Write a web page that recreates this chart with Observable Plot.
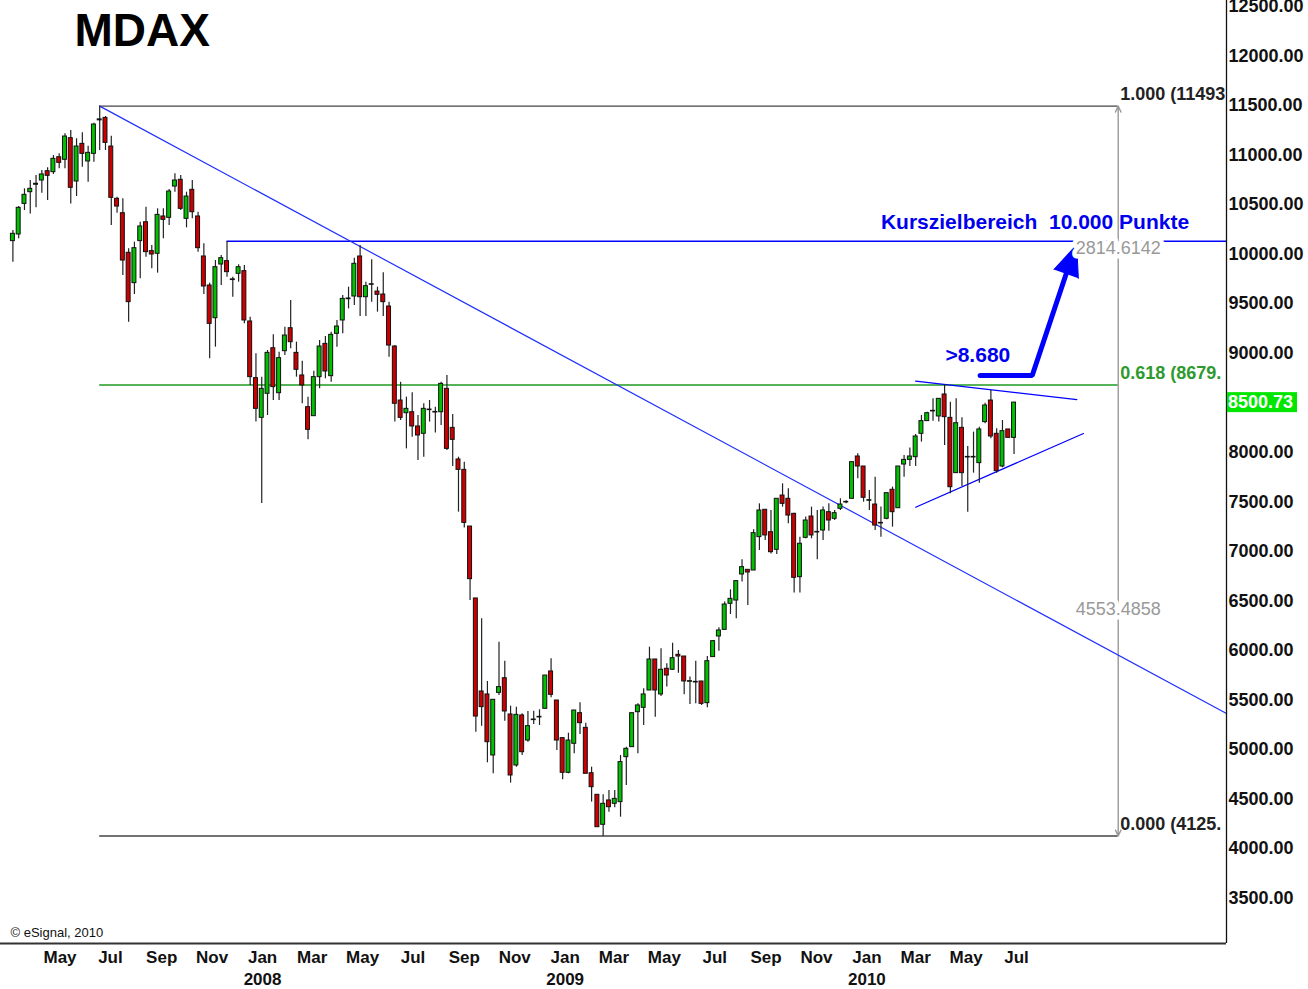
<!DOCTYPE html>
<html><head><meta charset="utf-8">
<script src="https://cdn.jsdelivr.net/npm/d3@7"></script>
<script src="https://cdn.jsdelivr.net/npm/@observablehq/plot@0.6"></script>
<style>
body{margin:0;background:#fff;}
#chart{position:relative;width:1308px;height:989px;overflow:hidden;}
</style></head><body><div id="chart"></div>
<script>
// ---- data (weekly MDAX candles) ----
const firstWeek = "2007-03-05";
const open = [10131,10198,10507,10625,10700,10743,10837,10827,10978,10952,11170,10733,11113,10935,11012,11350,11375,11086,10558,10413,
10013,9707,10131,10322,10030,10003,10380,10366,10682,10750,10356,10649,10380,9976,9683,9353,9895,9929,9745,9801,
9828,9320,8748,8347,8590,9050,8596,9020,9252,9003,8775,8455,8364,8758,9094,8768,9195,9330,9545,9572,
9976,9565,9690,9622,9592,9471,9067,8522,8394,8404,8260,8186,8425,8401,8404,8640,8246,7927,7822,7250,
6524,5585,5555,4939,5571,5719,5353,4838,5343,5090,5296,5323,5410,5787,5494,5114,4764,5057,5366,5218,
4760,4542,4239,4485,4451,4468,4922,5023,5376,5420,5595,5908,5555,5814,5804,5955,5938,5683,5676,5686,
5467,5932,6140,6207,6470,6503,6766,6813,6806,7143,7419,7193,7015,7563,7530,7378,6739,7136,7351,7190,
7210,7395,7328,7429,7493,7530,7957,7856,7510,7472,7281,7328,7621,7435,7876,7923,7950,8186,8314,8412,
8361,8583,8347,7789,8246,7947,7947,7890,8304,8522,8186,7856,8230,8145];
const high = [10238,10480,10659,10743,10793,10844,10871,10995,11012,11214,11248,11164,11224,11089,11322,11493,11389,11190,10575,10558,
10053,10121,10322,10474,10087,10457,10457,10652,10810,10793,10625,10743,10423,10104,9707,9935,9986,10127,9767,9892,
9885,9363,8993,8758,9027,9185,9010,9262,9532,9111,8919,8556,8818,9128,9168,9212,9330,9582,9666,9959,
10087,9717,9942,9666,9811,9515,9077,8707,8556,8600,8371,8489,8522,8455,8707,8775,8381,7950,7900,7250,
6524,6318,5686,5501,6083,5891,5437,5427,5359,5383,5386,5400,5746,5915,5494,5114,5164,5393,5470,5265,
4821,4542,4542,4586,4586,4939,5023,5366,5460,5612,6032,5908,6016,5864,6073,5999,5938,5730,5891,5686,
5938,6100,6228,6487,6611,6699,6914,6813,7217,7479,7419,7412,7530,7681,7631,7385,7143,7345,7446,7412,
7446,7479,7412,7530,7510,7900,7984,7856,7614,7748,7446,7587,7648,7856,7967,8044,8179,8371,8404,8539,
8539,8684,8505,8539,8347,8058,8203,8253,8495,8623,8236,8320,8230,8505];
const low = [9919,10154,10440,10406,10467,10615,10541,10804,10861,10861,10507,10581,10878,10726,10928,11046,11046,10289,10413,9784,
9313,9592,9750,9969,9851,9808,10154,10289,10625,10440,10265,10356,10020,9592,8943,9061,9683,9767,9565,9717,
9296,8674,8304,7483,8371,8522,8522,8976,9044,8758,8489,8125,8364,8640,8741,8707,9061,9195,9447,9481,
9370,9370,9515,9414,9370,8960,8304,8320,8034,8152,7917,7950,8304,8193,8270,8017,7856,7395,7234,6503,
5174,5235,4865,4754,5545,5285,4660,4821,4939,5073,5252,5242,5410,5521,4989,4693,4754,4956,5151,4754,
4468,4215,4121,4367,4411,4316,4636,5023,4956,5242,5595,5326,5535,5629,5797,5770,5551,5454,5460,5444,
5420,5932,5992,6207,6362,6318,6689,6453,6806,7008,7109,6974,6968,7446,7277,6578,6578,7126,7126,6914,
7109,7203,7311,7412,7480,7530,7732,7496,7412,7210,7143,7318,7244,7435,7748,7856,7856,8102,8314,8314,
8304,8068,7580,7789,7654,7395,7789,7688,8287,8135,7789,7843,8145,7977];
const close = [10205,10467,10598,10659,10710,10804,10790,10962,10921,11187,10669,11086,11012,11022,11308,11360,11123,10568,10480,9935,
9515,10060,10279,10020,9996,10396,10346,10632,10743,10457,10581,10423,10060,9673,9296,9868,9959,9818,9738,9868,
9330,8758,8438,8640,9003,8657,8950,9178,9111,8832,8674,8226,8758,9067,8815,9185,9269,9548,9552,9902,
9565,9676,9696,9589,9515,9077,8489,8347,8438,8260,8169,8438,8431,8407,8690,8034,8125,7822,7287,6719,
5332,5427,5073,5501,5629,5383,4737,5349,4972,5235,5302,5329,5746,5551,5090,4764,5090,5393,5265,4754,
4619,4215,4451,4417,4501,4872,5006,5366,5444,5555,5908,5595,5804,5746,5921,5938,5686,5689,5682,5460,
5891,6093,6201,6463,6520,6699,6840,6786,7183,7412,7160,6991,7530,7479,7361,6732,7076,7311,7160,7196,
7412,7311,7385,7472,7499,7900,7856,7540,7516,7260,7287,7587,7395,7856,7923,7957,8159,8314,8394,8418,
8539,8354,7647,8293,7789,7953,7953,8230,8472,8159,7809,8213,8145,8500.73];

const yTicks = d3.range(3500, 12501, 500).filter(v => v !== 8500);
const monthTicks = ["2007-05-01","2007-07-01","2007-09-01","2007-11-01","2008-01-01","2008-03-01","2008-05-01","2008-07-01",
"2008-09-01","2008-11-01","2009-01-01","2009-03-01","2009-05-01","2009-07-01","2009-09-01","2009-11-01","2010-01-01",
"2010-03-01","2010-05-01","2010-07-01"];
const yearTicks = ["2008-01-01","2009-01-01","2010-01-01"];

// Fibonacci retracement (1.000 / 0.618 / 0.000) and annotations
const fibValues = [11493.7, 8679.1, 4125.6];
const fibLabels = ["1.000 (11493", "0.618 (8679.", "0.000 (4125."];
const fibColors = ["#222", "#2e9a2e", "#222"];
const fibLineColors = ["#444", "#1f9a1f", "#444"];
const fibStart = "2007-06-18", fibEnd = "2010-11-01";
const targetLevel = 10130, targetStart = "2007-11-19";
const xDomain = ["2007-02-18", "2011-03-12"];
const yDomain = [3041, 12560];
const trendLine = [["2007-06-18", 11493.7], ["2011-03-12", 5363]];
const triUpper = [["2010-03-01", 8717], ["2010-09-12", 8532]];
const triLower = [["2010-03-01", 7445], ["2010-09-20", 8189]];
const arrowPath = [["2010-05-18", 8775], ["2010-07-20", 8775], ["2010-08-30", 9800]];
const lastPrice = 8500.73;

// ---- build ----
const DAY = 864e5;
const t0 = new Date(firstWeek);
const bars = close.map((c, i) => ({date: new Date(+t0 + i * 7 * DAY), open: open[i], high: high[i], low: low[i], close: c}));
const D = s => new Date(s);
const font = "'Liberation Sans', Arial, sans-serif";
const blue = "#0000ff";

const plot = Plot.plot({
  width: 1308, height: 989,
  marginLeft: 0, marginRight: 82, marginTop: 0, marginBottom: 46,
  style: {fontFamily: font, color: "#111", background: "#fff", overflow: "visible"},
  x: {type: "utc", domain: xDomain.map(D)},
  y: {domain: yDomain},
  marks: [
    // fib horizontal lines
    Plot.ruleY(fibValues.map((v, i) => ({v, i})), {y: "v", x1: D(fibStart), x2: D(fibEnd), stroke: d => fibLineColors[d.i], strokeWidth: 1.4}),
    // target zone line
    Plot.ruleY([targetLevel], {x1: D(targetStart), x2: D(xDomain[1]), stroke: blue, strokeWidth: 1.3}),
    // fib vertical measuring lines
    Plot.arrow([{y1: fibValues[1], y2: fibValues[0]}, {y1: fibValues[1], y2: fibValues[2]}],
      {x: D(fibEnd), y1: "y1", y2: "y2", stroke: "#999", strokeWidth: 1.4, headLength: 7, headAngle: 50}),
    // trend lines
    Plot.line(trendLine, {x: d => D(d[0]), y: d => d[1], stroke: "#2030ff", strokeWidth: 1.2}),
    Plot.line(triUpper, {x: d => D(d[0]), y: d => d[1], stroke: blue, strokeWidth: 1.2}),
    Plot.line(triLower, {x: d => D(d[0]), y: d => d[1], stroke: blue, strokeWidth: 1.2}),
    // candles
    Plot.ruleX(bars, {x: "date", y1: "low", y2: "high", stroke: "#222", strokeWidth: 1.2}),
    Plot.rect(bars, {
      x1: d => new Date(+d.date - 2.4 * DAY), x2: d => new Date(+d.date + 2.4 * DAY),
      y1: "open", y2: "close",
      fill: d => d.close >= d.open ? "#00c000" : "#cc0000", stroke: "#111", strokeWidth: 1
    }),
    // arrow to target
    Plot.line(arrowPath, {x: d => D(d[0]), y: d => d[1], stroke: blue, strokeWidth: 5, strokeLinejoin: "miter"}),
    Plot.vector([arrowPath[2]], {x: d => D(d[0]), y: d => d[1], length: 31, rotate: 20, r: 13, shape: "spike", anchor: "start", fill: blue, stroke: blue, strokeWidth: 1}),
    // texts
    Plot.text(["Kurszielbereich  10.000 Punkte"], {x: D("2010-01-18"), y: 10319, textAnchor: "start", fill: "#0000ee", fontSize: 21, fontWeight: "bold"}),
    Plot.text([">8.680"], {x: D("2010-04-06"), y: 8976, textAnchor: "start", fill: "#0000ee", fontSize: 21, fontWeight: "bold"}),
    Plot.text(["2814.6142"], {x: D(fibEnd), y: 10060, fill: "#999", fontSize: 18, stroke: "white", strokeWidth: 9}),
    Plot.text(["4553.4858"], {x: D(fibEnd), y: 6413, fill: "#999", fontSize: 18, stroke: "white", strokeWidth: 9}),
    Plot.text(fibValues.map((v, i) => ({v, i})), {x: D(fibEnd), y: d => d.v + 117, dx: 2, text: d => fibLabels[d.i], textAnchor: "start", fill: d => fibColors[d.i], fontSize: 18, fontWeight: "bold", clip: true}),
    Plot.text(["MDAX"], {frameAnchor: "top-left", dx: 74, dy: 13, textAnchor: "start", lineAnchor: "top", fontSize: 46, fontWeight: "bold", fill: "#000"}),
    Plot.text(["© eSignal, 2010"], {frameAnchor: "bottom-left", dx: 10, dy: -11, textAnchor: "start", lineAnchor: "middle", fontSize: 13, fill: "#111"}),
    // axes
    Plot.axisY({anchor: "right", ticks: yTicks, tickFormat: d => d.toFixed(2), tickSize: 0, tickPadding: 2, fontSize: 18, fontWeight: "bold"}),
    Plot.axisX({ticks: monthTicks.map(D), tickFormat: d3.utcFormat("%b"), tickSize: 0, tickPadding: 7, fontSize: 17, fontWeight: "bold"}),
    Plot.axisX({ticks: yearTicks.map(D), tickFormat: d3.utcFormat("%Y"), tickSize: 0, tickPadding: 29, fontSize: 17, fontWeight: "bold"}),
    Plot.ruleX([D(xDomain[1])], {stroke: "#111", strokeWidth: 1.3}),
    Plot.ruleY([yDomain[0]], {x1: D(xDomain[0]), x2: D(xDomain[1]), stroke: "#333", strokeWidth: 2})
  ]
});

// last price marker on the right axis, positioned by the plot's y scale
const svg = d3.select(plot);
const yy = plot.scale("y").apply(lastPrice);
const xx = plot.scale("x").apply(D(xDomain[1]));
svg.append("rect").attr("x", xx + 1).attr("y", yy - 10).attr("width", 70).attr("height", 20).attr("fill", "#00e600");
svg.append("text").attr("x", xx + 2).attr("y", yy).attr("dy", "0.35em").attr("text-anchor", "start").attr("fill", "white")
  .attr("font-size", 18).attr("font-weight", "bold").attr("font-family", font).text(lastPrice.toFixed(2));

document.getElementById("chart").appendChild(plot);
</script></body></html>
